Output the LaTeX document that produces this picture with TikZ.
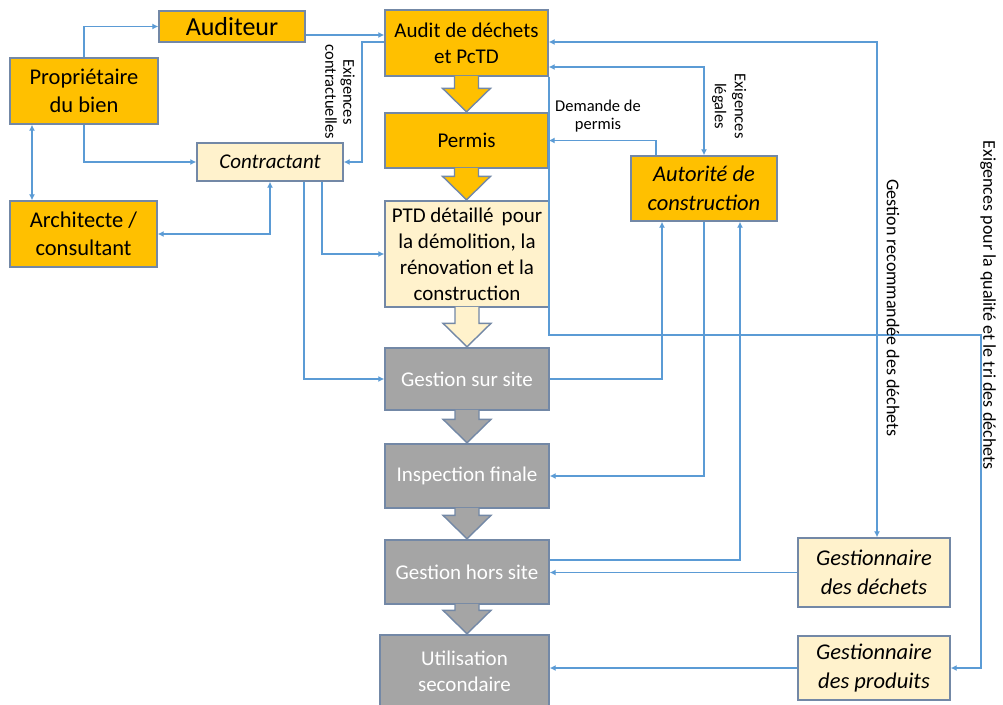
\documentclass[tikz,border=0pt]{standalone}
\usepackage{fontspec}
\setmainfont{Carlito}
\usetikzlibrary{arrows.meta,calc}

\definecolor{orangec}{HTML}{FFC000}
\definecolor{creamc}{HTML}{FFF2CC}
\definecolor{grayc}{HTML}{A5A5A5}
\definecolor{edgec}{HTML}{7388A6}
\definecolor{linkc}{HTML}{5B9BD5}

\newcommand{\setfz}[2]{\fontsize{#1}{#2}\selectfont}

% wide block arrow from the bottom of one box to the top of the next
\newcommand{\flowarrow}[3]{%
  \path[blockarrow, fill=#3] let \p1=(#1.south), \p2=(#2.north) in
    (\x1-12pt,\y1+0.8pt) -- (\x1-12pt,\y2+24pt) -- (\x1-24pt,\y2+24pt)
    -- (\x1,\y2+0.5pt) -- (\x1+24pt,\y2+24pt) -- (\x1+12pt,\y2+24pt)
    -- (\x1+12pt,\y1+0.8pt);
}

\begin{document}
\begin{tikzpicture}[x=1pt,y=-1pt,
  box/.style={draw=edgec, line width=1.4pt, align=center, inner sep=1pt},
  orangebox/.style={box, fill=orangec, text=black},
  creambox/.style={box, fill=creamc, text=black},
  graybox/.style={box, fill=grayc, text=white},
  boxfont/.style={font=\setfz{21}{26}},
  bigfont/.style={font=\setfz{22.5}{28.5}},
  blockarrow/.style={draw=edgec, line width=1.4pt, line join=miter},
  link/.style={draw=linkc, line width=1.4pt, -{Latex[length=6pt,width=6pt]}},
  linkboth/.style={draw=linkc, line width=1.4pt, {Latex[length=6pt,width=6pt]}-{Latex[length=6pt,width=6pt]}},
  lbl/.style={align=center, inner sep=0pt, text=black},
]
\useasboundingbox (0,0) rectangle (1003,704);
\fill[white] (0,0) rectangle (1003,704);

% levels used by the connectors
\coordinate (y35) at (0,35);
\coordinate (y42) at (0,42);
\coordinate (y67) at (0,67);
\coordinate (y335) at (0,335);
\coordinate (y560) at (0,560);
\coordinate (x32) at (32,0);
\coordinate (x304) at (304,0);
\coordinate (x322) at (322,0);
\coordinate (x362) at (362,0);
\coordinate (x549) at (549,0);
\coordinate (x656) at (656,0);
\coordinate (x662) at (662,0);
\coordinate (x740) at (740,0);
\coordinate (x877) at (877,0);
\coordinate (x981) at (981,0);

% left group
\node[orangebox, minimum width=146, minimum height=31, font=\setfz{26}{30}] (aud) at (232,26.5) {Auditeur};
\node[orangebox, bigfont, minimum width=148, minimum height=66] (prop) at (84,91) {Propriétaire\\du bien};
\node[orangebox, bigfont, minimum width=147, minimum height=66] (arch) at (83.5,234) {Architecte /\\consultant};
\node[creambox, minimum width=146, minimum height=38, font=\setfz{21}{26}\itshape] (contr) at (270,162) {Contractant};

% central process column
\node[orangebox, boxfont, minimum width=163, minimum height=66] (audit) at (466.5,43) {Audit de déchets\\et PcTD};
\node[orangebox, boxfont, minimum width=163, minimum height=55] (permis) at (466.5,140.5) {Permis};
\node[creambox, boxfont, minimum width=164, minimum height=106] (ptd) at (467,254) {PTD détaillé\, pour\\la démolition, la\\rénovation et la\\construction};
\node[graybox, boxfont, minimum width=164, minimum height=62] (gss) at (467,379) {Gestion sur site};
\node[graybox, boxfont, minimum width=164, minimum height=64] (insp) at (467,476) {Inspection finale};
\node[graybox, boxfont, minimum width=164, minimum height=64] (ghs) at (467,572) {Gestion hors site};
\node[graybox, boxfont, minimum width=169, minimum height=72] (util) at (464.5,671) {Utilisation\\secondaire};

% right group
\node[orangebox, minimum width=146, minimum height=65, font=\setfz{22.5}{29}\itshape] (auto) at (704,188.5) {Autorité de\\construction};
\node[creambox, minimum width=152, minimum height=69, font=\setfz{22.5}{29}\itshape] (gd) at (874,572.5) {Gestionnaire\\des déchets};
\node[creambox, minimum width=152, minimum height=64, font=\setfz{22.5}{29}\itshape] (gp) at (874,668) {Gestionnaire\\des produits};

% block arrows of the main flow
\flowarrow{audit}{permis}{orangec}
\flowarrow{permis}{ptd}{orangec}
\flowarrow{ptd}{gss}{creamc}
\flowarrow{gss}{insp}{grayc}
\flowarrow{insp}{ghs}{grayc}
\flowarrow{ghs}{util}{grayc}

% connectors
\draw[link] (prop.north) |- (aud.west);
\draw[link] (aud.east |- y35) -- (audit.west |- y35);
\draw[link] (prop.south) |- (contr.west);
\draw[linkboth] (prop.south -| x32) -- (arch.north -| x32);
\draw[linkboth] (contr.south) |- (arch.east);
\draw[link] (audit.west |- y42) -- (x362 |- y42) -- (x362 |- contr.east) -- (contr.east);
\draw[link] (contr.south -| x304) |- (gss.west);
\draw[link] (contr.south -| x322) |- (ptd.west);
\draw[link] (auto.north -| x656) |- (permis.east);
\draw[linkboth] (audit.east |- y67) -| (auto.north);
\draw[linkboth] (gd.north -| x877) |- (audit.east |- y42);
\draw[link] (x549 |- audit.south) -- (x549 |- y335) -- (x981 |- y335) -- (x981 |- gp.east) -- (gp.east);
\draw[link] (gss.east) -| (auto.south -| x662);
\draw[link] (auto.south) |- (insp.east);
\draw[link] (ghs.east |- y560) -| (auto.south -| x740);
\draw[link] (gd.west) -- (gd.west -| ghs.east);
\draw[link] (gp.west) -- (gp.west -| util.east);

% connector labels
\node[lbl, rotate=-90, font=\setfz{16.5}{18}] (lexc) at (340,92) {Exigences\\contractuelles};
\node[lbl, font=\setfz{16.5}{18}] (ldem) at (598,116) {Demande de\\permis};
\node[lbl, rotate=-90, font=\setfz{16.5}{20}] (lleg) at (729,106) {Exigences\\légales};
\node[lbl, rotate=-90, font=\setfz{18}{20}] (lgest) at (893,308) {Gestion recommandée des déchets};
\node[lbl, rotate=-90, font=\setfz{18}{20}] (lqual) at (988,305) {Exigences pour la qualité et le tri des déchets};
\end{tikzpicture}
\end{document}
